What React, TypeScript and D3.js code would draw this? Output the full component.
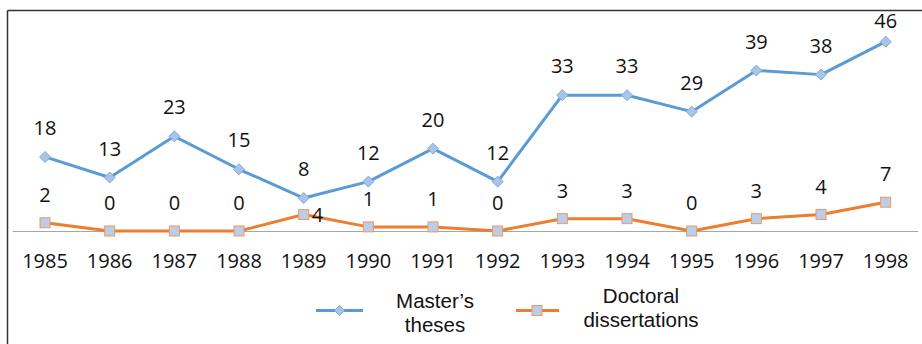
import React from "react";
import * as d3 from "d3";

const years = ["1985","1986","1987","1988","1989","1990","1991","1992","1993","1994","1995","1996","1997","1998"];
const masters = [18,13,23,15,8,12,20,12,33,33,29,39,38,46];
const doctoral = [2,0,0,0,4,1,1,0,3,3,0,3,4,7];
const seriesNames = ["Master\u2019s|theses", "Doctoral|dissertations"];

const W = 922, H = 344;
const BLUE = "#5b9bd5", ORANGE = "#ed7d31";

export default function App() {
  const x = d3.scaleBand<string>().domain(years).range([12.7, 918]);
  const y = d3.scaleLinear().domain([0, 46]).range([231, 41.7]);
  const cx = (d: string) => (x(d) as number) + x.bandwidth() / 2;
  const line = d3.line<number>().x((_, i) => cx(years[i])).y((v) => y(v));
  const font = "'Open Sans', sans-serif";
  const lfont = "'Liberation Sans', Arial, sans-serif";
  const diamond = (px: number, py: number, r = 5.5) =>
    `M${px},${py - r}L${px + r},${py}L${px},${py + r}L${px - r},${py}Z`;

  return (
    <svg width={W} height={H} style={{ position: "absolute", left: 0, top: 0, background: "#fff" }}>
      <line x1={7.5} x2={922} y1={10.5} y2={10.5} stroke="#333" strokeWidth={1.5} />
      <line x1={7.5} x2={7.5} y1={10.5} y2={344} stroke="#333" strokeWidth={1.5} />
      <line x1={12.7} x2={918} y1={231.5} y2={231.5} stroke="#a6a6a6" strokeWidth={1} />
      {years.map((yr) => (
        <text key={yr} x={cx(yr)} y={267.5} textAnchor="middle" fontFamily={font} fontSize={20} fill="#111">{yr}</text>
      ))}
      <path d={line(masters) as string} fill="none" stroke={BLUE} strokeWidth={3} strokeLinejoin="round" />
      <path d={line(doctoral) as string} fill="none" stroke={ORANGE} strokeWidth={3} strokeLinejoin="round" />
      {masters.map((v, i) => (
        <path key={"m" + i} d={diamond(cx(years[i]), y(v))} fill="#a9c4e6" stroke="#7fa9d8" strokeWidth={1} />
      ))}
      {doctoral.map((v, i) => (
        <rect key={"d" + i} x={cx(years[i]) - 5} y={y(v) - 5} width={10} height={10} fill="#bccde8" stroke="#e99a68" strokeWidth={1} />
      ))}
      {masters.map((v, i) => (
        <text key={"ml" + i} x={cx(years[i])} y={Math.max(27.5, y(v) - 22)} textAnchor="middle" fontFamily={font} fontSize={20} fill="#111">{v}</text>
      ))}
      {doctoral.map((v, i) => {
        const side = years[i] === "1989";
        return (
          <text key={"dl" + i} x={side ? cx(years[i]) + 8 : cx(years[i])} y={side ? y(v) + 7 : y(v) - 21}
            textAnchor={side ? "start" : "middle"} fontFamily={font} fontSize={20} fill="#111">{v}</text>
        );
      })}
      {/* legend */}
      <g>
        <line x1={316} x2={363} y1={310.5} y2={310.5} stroke={BLUE} strokeWidth={3} />
        <path d={diamond(339.5, 310.5, 5)} fill="#a9c4e6" stroke="#7fa9d8" strokeWidth={1} />
        {seriesNames[0].split("|").map((t, k) => (
          <text key={t} x={435} y={308.3 + k * 23.4} textAnchor="middle" fontFamily={lfont} fontSize={20.5} fill="#111">{t}</text>
        ))}
        <line x1={516} x2={559} y1={310.5} y2={310.5} stroke={ORANGE} strokeWidth={3} />
        <rect x={532} y={305.5} width={10} height={10} fill="#bccde8" stroke="#e99a68" strokeWidth={1} />
        {seriesNames[1].split("|").map((t, k) => (
          <text key={t} x={641} y={303.3 + k * 23.4} textAnchor="middle" fontFamily={lfont} fontSize={20.5} fill="#111">{t}</text>
        ))}
      </g>
    </svg>
  );
}
